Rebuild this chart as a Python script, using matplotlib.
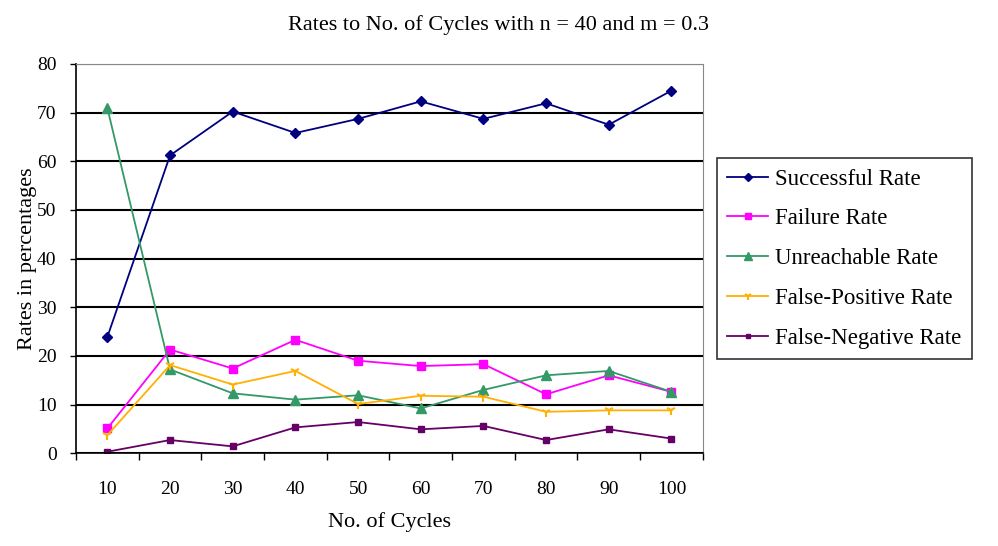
import numpy as np
import matplotlib.pyplot as plt
from matplotlib.ticker import FixedLocator, NullFormatter

plt.rcParams['font.family'] = ['Liberation Serif', 'DejaVu Serif']

cycles = ['10', '20', '30', '40', '50', '60', '70', '80', '90', '100']
successful = [23.9, 61.2, 70.2, 65.8, 68.7, 72.3, 68.7, 71.9, 67.5, 74.5]
failure = [5.1, 21.3, 17.4, 23.3, 19.0, 17.9, 18.3, 12.1, 16.0, 12.6]
unreachable = [70.9, 17.2, 12.3, 11.0, 11.9, 9.2, 13.0, 16.0, 16.9, 12.6]
false_pos = [3.7, 18.1, 14.1, 16.9, 10.1, 11.8, 11.6, 8.5, 8.8, 8.8]
false_neg = [0.3, 2.7, 1.4, 5.3, 6.4, 4.9, 5.6, 2.7, 4.9, 3.0]

fig = plt.figure(figsize=(9.98, 5.46), dpi=100)
ax = fig.add_axes([0.0762, 0.170, 0.628, 0.713])

x = np.arange(len(cycles))
ax.plot(x, successful, color='#000080', marker='D', ms=5, lw=1.3, label='Successful Rate')
ax.plot(x, failure, color='#FF00FF', marker='s', ms=6, lw=1.3, label='Failure Rate')
ax.plot(x, unreachable, color='#339966', marker='^', ms=7, lw=1.3, label='Unreachable Rate')
ax.plot(x, false_pos, color='#FFB000', marker='1', ms=7, mew=1.5, lw=1.3, label='False-Positive Rate')
ax.plot(x, false_neg, color='#660066', marker='s', ms=4, lw=1.3, label='False-Negative Rate')

ax.set_xlim(-0.5, 9.5)
ax.set_ylim(0, 80)
ax.set_yticks(range(0, 81, 10))
ax.yaxis.grid(True, color='black', lw=1.5)
ax.set_axisbelow(True)

# category labels centred, tick marks between categories
ax.set_xticks(x)
ax.set_xticklabels(cycles)
ax.xaxis.set_minor_locator(FixedLocator(np.arange(-0.5, 10, 1)))
ax.xaxis.set_minor_formatter(NullFormatter())
ax.tick_params(axis='x', which='major', length=0, pad=20, labelsize=14)
ax.tick_params(axis='x', which='minor', length=5, width=1, direction='out')
ax.tick_params(axis='y', length=4, width=1, direction='out', labelsize=14, pad=10)

for side in ['top', 'right']:
    ax.spines[side].set_color('#888888')
for side in ['left', 'bottom']:
    ax.spines[side].set_color('black')
    ax.spines[side].set_linewidth(1.2)

ax.set_xlabel('No. of Cycles', fontsize=16, labelpad=10)
ax.set_ylabel('Rates in percentages', fontsize=16, labelpad=0)
fig.text(0.50, 0.955, 'Rates to No. of Cycles with n = 40 and m = 0.3',
         ha='center', va='center', fontsize=16)

leg = ax.legend(loc='upper left', bbox_to_anchor=(1.004, 0.787), fontsize=16.5,
                frameon=True, fancybox=False, edgecolor='black',
                handlelength=1.8, handletextpad=0.3, labelspacing=0.82,
                borderpad=0.45, markerscale=0.8)
leg.get_frame().set_linewidth(1.2)

fig.savefig('out.png', dpi=100)
